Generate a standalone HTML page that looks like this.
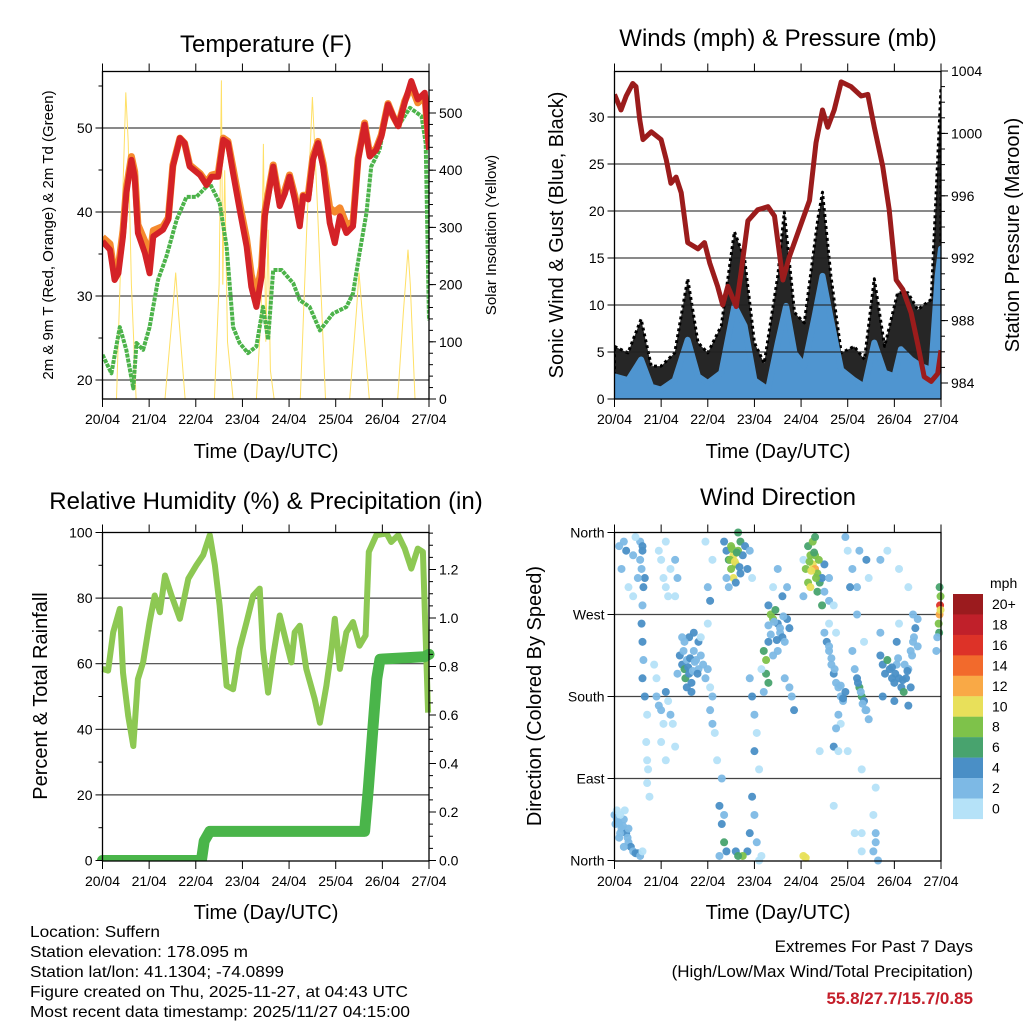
<!DOCTYPE html>
<html><head><meta charset="utf-8">
<style>
html,body{margin:0;padding:0;background:#fff;}
svg{display:block;font-family:"Liberation Sans",sans-serif;}
</style></head>
<body>
<svg id="fig" width="1024" height="1024" viewBox="0 0 1024 1024" xmlns="http://www.w3.org/2000/svg">
<rect width="1024" height="1024" fill="#fff"/>
<g id="p1"></g>
<g id="p2"></g>
<g id="p3"></g>
<g id="p4"></g>
<text x="266" y="52" font-size="24" text-anchor="middle">Temperature (F)</text>
<text x="778" y="46" font-size="24" text-anchor="middle">Winds (mph) &amp; Pressure (mb)</text>
<text x="266" y="509" font-size="24" text-anchor="middle">Relative Humidity (%) &amp; Precipitation (in)</text>
<text x="778" y="505" font-size="24" text-anchor="middle">Wind Direction</text>
<text x="266" y="458" font-size="20" text-anchor="middle">Time (Day/UTC)</text>
<text x="778" y="458" font-size="20" text-anchor="middle">Time (Day/UTC)</text>
<text x="266" y="919" font-size="20" text-anchor="middle">Time (Day/UTC)</text>
<text x="778" y="919" font-size="20" text-anchor="middle">Time (Day/UTC)</text>
<text transform="translate(53,235) rotate(-90)" font-size="15" text-anchor="middle">2m &amp; 9m T (Red, Orange) &amp; 2m Td (Green)</text>
<text transform="translate(496,235) rotate(-90)" font-size="15" text-anchor="middle">Solar Insolation (Yellow)</text>
<text transform="translate(563,235) rotate(-90)" font-size="20" text-anchor="middle">Sonic Wind &amp; Gust (Blue, Black)</text>
<text transform="translate(1019,235) rotate(-90)" font-size="20" text-anchor="middle">Station Pressure (Maroon)</text>
<text transform="translate(47,696) rotate(-90)" font-size="20" text-anchor="middle">Percent &amp; Total Rainfall</text>
<text transform="translate(541,696) rotate(-90)" font-size="20" text-anchor="middle">Direction (Colored By Speed)</text>
<g font-size="16">
<text x="30" y="937" textLength="130" lengthAdjust="spacingAndGlyphs">Location: Suffern</text>
<text x="30" y="957" textLength="218" lengthAdjust="spacingAndGlyphs">Station elevation: 178.095 m</text>
<text x="30" y="977" textLength="254" lengthAdjust="spacingAndGlyphs">Station lat/lon: 41.1304; -74.0899</text>
<text x="30" y="997" textLength="378" lengthAdjust="spacingAndGlyphs">Figure created on Thu, 2025-11-27, at 04:43 UTC</text>
<text x="30" y="1017" textLength="380" lengthAdjust="spacingAndGlyphs">Most recent data timestamp: 2025/11/27 04:15:00</text>
</g>
<g text-anchor="end">
<text x="973" y="952" font-size="17">Extremes For Past 7 Days</text>
<text x="973" y="977" font-size="17">(High/Low/Max Wind/Total Precipitation)</text>
<text x="973" y="1004" font-size="17" font-weight="bold" fill="#c41e2a">55.8/27.7/15.7/0.85</text>
</g>
<g id="cbar"></g>
</svg>
<script>
// ---------- DATA ----------
const dayLabels = ["20/04","21/04","22/04","23/04","24/04","25/04","26/04","27/04"];
const tempT = [0,0.16,0.26,0.34,0.44,0.51,0.62,0.69,0.76,0.91,1.01,1.09,1.3,1.41,1.51,1.66,1.76,1.87,2.09,2.23,2.34,2.48,2.59,2.69,2.8,2.94,3.09,3.19,3.3,3.41,3.48,3.66,3.8,3.91,4.01,4.12,4.23,4.3,4.41,4.51,4.62,4.73,4.87,4.98,5.09,5.23,5.37,5.48,5.62,5.73,5.87,5.98,6.12,6.23,6.34,6.48,6.62,6.76,6.91,7.0];
const temp2m = [36.5,35.5,31.9,32.7,37.1,42.2,46.2,44.2,37.5,35.1,32.7,37.1,37.9,39.1,45.4,48.8,48.2,45.4,44.4,43.2,44.2,44.2,48.6,48.2,44.6,40.3,35.9,31.1,28.7,32.3,39.5,45.4,40.7,42.2,44.2,41.5,38.3,41.9,41.5,46.2,48.2,45.4,38.7,36.3,39.5,37.5,38.3,46.2,50.4,46.6,47.4,49.0,52.8,51.4,50.2,53.0,55.6,53.4,54.2,47.4];
const temp9m = [37.0,36.2,32.5,33.5,37.8,42.8,46.6,44.8,38.5,36.5,34.5,37.8,38.3,39.3,45.6,48.8,48.2,45.6,44.6,43.5,44.4,44.6,48.8,48.4,45.2,41.0,36.8,32.5,30.0,33.5,40.0,45.6,41.2,42.6,44.4,42.0,39.0,42.0,42.0,46.6,48.4,45.8,40.5,40.0,40.5,38.5,38.8,46.4,50.6,46.8,47.6,49.2,52.9,51.4,50.3,53.2,55.0,53.0,53.8,48.0];
const dewT = [0,0.19,0.37,0.51,0.66,0.73,0.87,1.01,1.19,1.37,1.59,1.8,2.01,2.3,2.51,2.66,2.8,2.94,3.12,3.3,3.44,3.55,3.66,3.84,4.09,4.23,4.44,4.66,4.94,5.23,5.37,5.51,5.66,5.76,5.94,6.12,6.34,6.59,6.84,6.93,7.0];
const dewV = [23.0,20.8,26.3,23.6,19.0,24.4,23.6,26.3,31.9,34.7,39.1,41.8,41.8,43.4,41.1,35.9,26.3,24.4,23.2,24.0,28.7,24.8,33.1,33.1,31.5,29.5,28.7,25.9,27.9,28.7,30.3,35.1,39.9,45.4,47.4,52.8,50.2,52.4,51.4,48.2,27.1];
const solarT = [0,0.3,0.45,0.5,0.55,0.62,0.72,1.34,1.5,1.57,1.63,1.77,2.4,2.5,2.55,2.58,2.62,2.68,2.8,3.3,3.4,3.45,3.5,3.55,3.6,3.68,4.24,4.38,4.5,4.6,4.78,5.3,5.45,5.5,5.6,5.72,6.33,6.45,6.55,6.6,6.7,7.0];
const solarV = [0,0,400,536,450,200,0,0,150,221,150,0,0,200,557,200,400,100,0,0,150,446,100,296,50,0,0,300,528,350,0,0,160,221,120,0,0,150,261,200,0,0];
const windT = [0,0.29,0.57,0.79,1.0,1.29,1.57,1.79,2.0,2.29,2.57,2.79,3.0,3.29,3.5,3.68,3.86,4.07,4.29,4.46,4.64,4.86,5.14,5.36,5.57,5.79,6.0,6.14,6.36,6.57,6.79,6.93,7.0];
const windV = [2.4,2.0,4.2,1.3,1.0,2.0,6.3,2.4,1.7,2.8,9.9,7.8,2.0,1.0,6.0,9.9,4.9,3.5,8.8,13.1,8.5,3.1,2.0,1.3,6.0,2.8,2.4,5.3,4.2,3.5,3.1,13.1,16.0];
const gustT = [0,0.29,0.57,0.79,1.0,1.29,1.57,1.79,2.0,2.29,2.57,2.79,3.0,3.21,3.5,3.64,3.86,4.07,4.36,4.46,4.64,4.86,5.14,5.36,5.57,5.79,6.07,6.29,6.5,6.79,6.89,7.0];
const gustV = [5.6,4.9,8.5,3.5,3.5,4.9,12.8,6.0,4.9,7.8,17.8,14.9,6.0,3.8,13.1,19.9,9.2,8.1,19.2,22.0,13.1,4.9,5.6,4.2,12.8,5.6,11.3,11.3,9.5,10.6,21.3,33.1];
const presT = [0,0.14,0.25,0.39,0.46,0.54,0.61,0.79,1.0,1.11,1.21,1.32,1.43,1.57,1.79,1.93,2.04,2.21,2.32,2.43,2.61,2.71,2.86,3.07,3.29,3.43,3.61,3.75,4.0,4.18,4.32,4.46,4.57,4.71,4.86,5.07,5.29,5.43,5.57,5.75,5.89,6.04,6.18,6.36,6.5,6.64,6.79,6.93,7.0];
const presV = [1002.5,1001.5,1002.4,1003.2,1003.0,1000.9,999.6,1000.1,999.6,998.3,996.8,997.2,996.2,993.0,992.6,993.0,991.7,990.2,989.0,990.2,988.9,991.0,994.4,995.1,995.3,994.7,990.6,992.1,994.2,995.7,999.4,1001.5,1000.4,1001.5,1003.3,1003.0,1002.4,1002.5,1000.4,997.9,995.1,990.6,990.0,988.5,986.5,984.4,984.1,984.6,986.1];
const rhT = [0,0.12,0.23,0.37,0.44,0.55,0.66,0.76,0.87,1.01,1.12,1.23,1.34,1.48,1.66,1.84,2.01,2.16,2.3,2.41,2.51,2.66,2.8,2.94,3.09,3.23,3.37,3.44,3.55,3.66,3.8,3.94,4.05,4.12,4.23,4.37,4.55,4.66,4.8,4.91,4.98,5.09,5.23,5.37,5.51,5.64,5.71,5.87,6.09,6.19,6.34,6.48,6.62,6.76,6.87,6.98];
const rhV = [58.4,57.9,69.6,76.7,57.3,44.1,34.9,55.3,60.4,72.7,80.8,75.7,86.9,80.8,73.7,85.9,90.0,93.1,99.2,90.0,77.8,53.3,52.2,64.5,72.7,80.8,82.9,64.5,51.2,62.4,74.7,66.5,60.4,69.6,71.6,58.4,49.2,42.0,53.3,64.5,73.7,58.4,69.6,72.7,65.5,68.6,94.1,99.2,99.7,97.1,99.2,95.1,89.0,95.1,94.1,45.1];
const rainT = [0,2.12,2.18,2.3,5.62,5.7,5.8,5.88,5.95,6.9,7.0];
const rainV = [0,0,0.08,0.12,0.12,0.3,0.55,0.75,0.83,0.84,0.85];
const dirT = [0,0.05,0.1,0.15,0.2,0.25,0.3,0.35,0.4,0.45,0.05,0.1,0.2,0.3,0.02,0.12,0.22,0.5,0.55,0.6,
0.55,0.6,0.58,0.62,0.6,0.58,0.6,0.62,0.6,0.65,0.7,0.68,0.7,0.72,0.7,0.75,0.6,0.55,0.65,
0.1,0.2,0.25,0.15,0.4,0.3,0.4,0.5,0.45,
0.95,1.0,1.05,1.1,1.15,1.2,1.3,1.35,1.3,1.1,0.9,0.95,1.0,1.05,1.1,1.2,1.25,1.0,1.1,0.85,0.9,1.15,1.3,
1.4,1.45,1.5,1.52,1.55,1.6,1.65,1.7,1.75,1.8,1.85,1.9,1.8,1.7,1.6,1.5,1.55,1.65,1.95,2.0,2.05,2.1,1.45,1.35,1.85,
2.05,2.1,2.15,2.2,2.3,2.25,2.3,2.35,2.4,2.25,2.35,2.1,2.0,2.05,2.0,1.95,
2.35,2.4,2.45,2.5,2.55,2.6,2.65,2.7,2.5,2.55,2.6,2.75,2.8,2.85,2.7,2.65,2.45,2.9,2.95,2.4,
2.9,2.95,3.0,3.05,3.0,3.1,2.95,3.0,2.9,2.85,2.75,3.05,3.1,3.15,2.6,2.65,
3.3,3.35,3.4,3.45,3.5,3.55,3.6,3.65,3.7,3.75,3.2,3.25,3.25,3.3,3.2,3.15,3.4,3.5,3.65,3.75,3.8,3.85,3.6,3.7,3.4,3.5,3.3,
4.15,4.2,4.25,4.3,4.35,4.4,4.1,4.15,4.2,4.3,4.35,4.45,4.5,4.5,4.6,4.25,4.3,4.05,4.6,4.45,
4.5,4.55,4.6,4.65,4.7,4.75,4.8,4.85,4.9,4.95,4.8,4.85,4.75,4.7,4.8,4.6,4.7,4.75,
5.2,5.25,5.3,5.35,5.4,5.45,5.15,5.1,5.0,5.1,5.2,5.25,5.4,5.45,5.0,5.3,5.6,5.55,5.6,5.55,5.6,5.65,5.3,5.3,
5.7,5.75,5.8,5.85,5.9,5.95,6.0,6.05,6.1,6.15,6.2,6.25,6.3,6.35,6.4,6.45,6.4,5.7,5.75,6.0,6.3,6.35,6.5,6.5,6.05,6.1,
6.95,6.97,6.98,6.99,6.96,6.97,6.99,6.92,6.9,
5.85,6.3,6.1,4.05,4.95,5.05,5.7,5.2,5.35,4.4,4.7,4.05,4.1,5.15,
0.08,0.18,0.28,0.12,1.58,1.62,1.68,1.72,1.78,1.48,2.48,2.52,2.58,2.62,2.68,3.3,3.35,3.42,3.48,3.55,3.62,4.18,4.22,4.28,4.32,4.38,4.6,4.65,4.72,4.85,4.9,5.22,5.28,5.32,5.38,5.95,6.02,6.08,6.18,6.22,6.28,6.38,6.42];
const dirV = [50,45,40,35,45,30,20,15,10,8,55,25,15,35,40,50,55,8,5,10,
350,340,320,300,280,260,240,220,200,180,160,130,110,100,85,70,345,330,310,
345,350,340,320,335,300,290,310,355,
340,330,310,300,290,320,330,310,290,350,200,170,165,150,185,160,150,130,110,215,180,175,125,
225,215,210,200,220,205,195,230,220,210,225,215,240,250,245,240,190,185,200,210,190,180,245,205,245,
165,150,140,110,90,60,40,20,10,5,50,330,300,285,260,350,
350,340,330,345,335,325,340,350,320,310,305,335,345,320,315,360,300,340,310,310,
200,180,160,140,120,100,70,50,30,10,5,20,0,5,10,5,
280,270,265,275,260,250,245,240,265,255,230,220,205,195,185,210,225,230,200,190,180,165,290,300,300,320,240,
345,335,325,320,315,305,320,305,300,335,295,310,325,295,310,350,355,290,285,280,
250,240,230,215,205,195,190,180,175,185,160,150,145,125,120,260,280,250,
200,190,180,175,165,155,210,230,340,320,300,340,330,310,120,100,80,50,30,10,20,0,30,10,
225,215,205,220,210,200,195,215,200,190,185,200,210,230,240,255,270,250,180,175,170,190,265,235,240,260,
260,270,280,290,250,300,275,245,230,
340,300,320,330,355,300,330,270,240,120,60,5,3,30,
42,38,25,30,212,222,208,218,205,230,330,342,328,338,322,258,248,262,242,255,268,328,318,338,310,330,235,222,210,192,178,195,185,172,165,212,205,222,198,215,208,225,245];
const dirS = [2,2,2,2,2,4,2,4,2,4,1,2,2,2,2,0,1,4,2,1,
2,4,3,4,2,4,4,3,4,4,1,1,1,1,0,1,4,2,4,
2,2,4,2,2,1,0,2,0,
0,1,0,0,0,1,2,2,0,0,0,2,2,1,4,2,1,1,0,0,2,1,0,
4,4,6,6,2,4,4,2,2,2,2,2,4,4,4,2,4,4,2,2,1,2,2,2,1,
2,2,1,0,2,4,4,6,4,2,2,0,2,4,1,0,
4,4,6,8,10,8,8,6,8,10,4,4,4,4,4,6,2,2,1,2,
2,4,2,1,4,1,4,2,4,4,8,2,1,1,4,6,
4,8,8,6,4,2,4,2,4,4,6,8,6,6,2,1,2,2,2,2,2,4,4,2,0,2,4,
6,8,10,12,8,6,8,8,10,8,6,4,4,2,2,8,6,2,2,6,
2,4,2,2,4,2,2,2,2,4,2,1,2,4,1,1,0,0,
4,6,6,4,2,2,2,2,1,2,2,2,4,0,0,0,0,1,2,2,2,2,1,1,
4,4,4,6,4,4,4,2,4,4,6,4,2,2,2,4,2,2,4,4,4,4,2,2,4,1,
8,12,16,8,6,6,10,2,2,
1,0,1,0,2,4,2,2,1,0,1,10,10,1,
2,2,3,2,4,4,2,3,4,2,8,8,10,6,4,2,3,2,4,2,2,8,10,6,8,8,2,3,2,2,4,4,2,3,2,4,4,3,4,2,4,2,2];
const cbarLabels = ["20+","18","16","14","12","10","8","6","4","2","0"];
const cbarColors = ["#9b1b1e","#c0202a","#dd3228","#f26a2c","#f9a946","#e8e05a","#7ec24a","#48a36e","#4a8fc6","#7db9e5","#b5e2f8"];

// ---------- DRAWING ----------
const NS="http://www.w3.org/2000/svg";
function mk(parent,tag,attrs){const e=document.createElementNS(NS,tag);for(const k in attrs)e.setAttribute(k,attrs[k]);parent.appendChild(e);return e;}
function lin(d0,d1,r0,r1){return v=>r0+(v-d0)*(r1-r0)/(d1-d0);}
function pathFrom(ts,vs,sx,sy){return ts.map((t,i)=>(i?"L":"M")+sx(t).toFixed(1)+" "+sy(vs[i]).toFixed(1)).join(" ");}

function frame(g,box){
  const sx=lin(0,7,box.x0,box.x1);
  dayLabels.forEach((lab,i)=>{
    const x=sx(i);
    const t1=mk(g,"line",{x1:x,x2:x,y1:box.y1,y2:box.y1+8,stroke:"#000","stroke-width":1});
    
    
    const t2=mk(g,"line",{x1:x,x2:x,y1:box.y0,y2:box.y0-8,stroke:"#000","stroke-width":1});
    
    
    const tx=mk(g,"text",{x:x,y:box.y1+25,"font-size":14,"text-anchor":"middle"});
    tx.textContent=lab;
    
    
  });
  return sx;
}
function border(g,box){
  const r=mk(g,"rect",{x:box.x0,y:box.y0,width:box.x1-box.x0,height:box.y1-box.y0,fill:"none",stroke:"#000","stroke-width":1.3});
  
  
}
function grid(g,box,vals,sy){
  vals.forEach(v=>{const y=sy(v);
    const l=mk(g,"line",{x1:box.x0,x2:box.x1,y1:y,y2:y,stroke:"#222","stroke-width":1.2,"stroke-opacity":0.85});
    
    });
}
function yAxis(g,box,vals,labels,sy,side,minor){
  const xe= side==="L"?box.x0:box.x1;
  const dir= side==="L"?-1:1;
  if(minor) minor.forEach(v=>{const y=sy(v);
    const l=mk(g,"line",{x1:xe,x2:xe+dir*4,y1:y,y2:y,stroke:"#000","stroke-width":1});
    
    });
  vals.forEach((v,i)=>{const y=sy(v);
    const l=mk(g,"line",{x1:xe,x2:xe+dir*7,y1:y,y2:y,stroke:"#000","stroke-width":1});
    
    
    const t=mk(g,"text",{x:xe+dir*10,y:y+5,"font-size":14,"text-anchor":side==="L"?"end":"start"});
    t.textContent=labels[i];
    
    });
}
function range(a,b,s){const r=[];for(let v=a;v<=b+1e-9;v+=s)r.push(+v.toFixed(4));return r;}

// Panel 1
(function(){
  const g=document.getElementById("p1");
  const box={x0:102.5,x1:429,y0:71.5,y1:399};
  const sx=frame(g,box);
  const sy=lin(20,30,380,296);
  const sr=lin(0,500,399,113);
  grid(g,box,[20,30,40,50],sy);
  const cp=mk(g,"clipPath",{id:"c1"});mk(cp,"rect",{x:box.x0,y:box.y0,width:box.x1-box.x0,height:box.y1-box.y0});
  const d=mk(g,"g",{"clip-path":"url(#c1)"});
  let p=mk(d,"path",{d:pathFrom(solarT,solarV,sx,sr),fill:"none",stroke:"#ffe066","stroke-width":1});
  
  
  p=mk(d,"path",{d:pathFrom(dewT,dewV,sx,sy),fill:"none",stroke:"#4cb34a","stroke-width":4,"stroke-linejoin":"round","stroke-dasharray":"4 1"});
  
  
  p=mk(d,"path",{d:pathFrom(tempT,temp9m,sx,sy),fill:"none",stroke:"#f58a2e","stroke-width":7,"stroke-linejoin":"round"});
  
  
  p=mk(d,"path",{d:pathFrom(tempT,temp2m,sx,sy),fill:"none",stroke:"#d42227","stroke-width":6,"stroke-linejoin":"round"});
  
  
  border(g,box);
  yAxis(g,box,[20,30,40,50],["20","30","40","50"],sy,"L",[25,35,45,55]);
  yAxis(g,box,[0,100,200,300,400,500],["0","100","200","300","400","500"],sr,"R",range(20,540,20));
})();

// Panel 2
(function(){
  const g=document.getElementById("p2");
  const box={x0:614.5,x1:941,y0:71.5,y1:399};
  const sx=frame(g,box);
  const sy=lin(0,5,399,352);
  const sp=lin(984,988,383,320.6);
  const cp=mk(g,"clipPath",{id:"c2"});mk(cp,"rect",{x:box.x0,y:box.y0,width:box.x1-box.x0,height:box.y1-box.y0});
  const d=mk(g,"g",{"clip-path":"url(#c2)"});
  let area=pathFrom(gustT,gustV,sx,sy)+" L"+sx(7)+" "+sy(0)+" L"+sx(0)+" "+sy(0)+" Z";
  let p=mk(d,"path",{d:area,fill:"#000","fill-opacity":0.85,stroke:"#000","stroke-width":3,"stroke-linejoin":"round","stroke-dasharray":"3 3"});
  
  
  let barea=pathFrom(windT,windV,sx,sy)+" L"+sx(7)+" "+sy(0.3)+" L"+sx(0)+" "+sy(0.3)+" Z";
  p=mk(d,"path",{d:barea,fill:"#4f95d0",stroke:"#4f95d0","stroke-width":6,"stroke-linejoin":"round"});
  
  
  grid(d,box,[5,10,15,20,25,30],sy);
  p=mk(d,"path",{d:pathFrom(presT,presV,sx,sp),fill:"none",stroke:"#9b1c1c","stroke-width":5,"stroke-linejoin":"round"});
  
  
  border(g,box);
  yAxis(g,box,[0,5,10,15,20,25,30],["0","5","10","15","20","25","30"],sy,"L");
  yAxis(g,box,[984,988,992,996,1000,1004],["984","988","992","996","1000","1004"],sp,"R",range(984,1004,1));
})();

// Panel 3
(function(){
  const g=document.getElementById("p3");
  const box={x0:102.5,x1:429,y0:532.5,y1:861};
  const sx=frame(g,box);
  const sy=lin(0,100,860.5,532.5);
  const sr=lin(0,0.1,860.5,836.25);
  grid(g,box,[20,40,60,80],sy);
  const cp=mk(g,"clipPath",{id:"c3"});mk(cp,"rect",{x:box.x0-6,y:box.y0,width:box.x1-box.x0+12,height:box.y1-box.y0});
  const d=mk(g,"g",{"clip-path":"url(#c3)"});
  let p=mk(d,"path",{d:pathFrom(rhT,rhV,sx,sy),fill:"none",stroke:"#8dc853","stroke-width":6,"stroke-linejoin":"round"});
  
  
  p=mk(d,"path",{d:pathFrom(rainT,rainV,sx,sr),fill:"none",stroke:"#4ab54a","stroke-width":11,"stroke-linejoin":"round","stroke-linecap":"round"});
  
  
  border(g,box);
  yAxis(g,box,[0,20,40,60,80,100],["0","20","40","60","80","100"],sy,"L",range(10,90,20));
  yAxis(g,box,[0,0.2,0.4,0.6,0.8,1.0,1.2],["0.0","0.2","0.4","0.6","0.8","1.0","1.2"],sr,"R",range(0.05,1.35,0.05));
})();

// Panel 4
(function(){
  const g=document.getElementById("p4");
  const box={x0:614.5,x1:941,y0:532.5,y1:861};
  const sx=frame(g,box);
  const sy=lin(0,360,860.5,532.5);
  grid(g,box,[90,180,270],sy);
  dirT.forEach((t,i)=>{
    const idx=Math.min(10,Math.floor(dirS[i]/2));
    const c=mk(g,"circle",{cx:sx(t),cy:sy(dirV[i]),r:4,fill:cbarColors[10-idx],"fill-opacity":0.95});
    
    
  });
  border(g,box);
  yAxis(g,box,[0,90,180,270,360],["North","East","South","West","North"],sy,"L");
  const cb=document.getElementById("cbar");
  const t=mk(cb,"text",{x:990,y:588,"font-size":14});
  t.textContent="mph";
  
  
  cbarLabels.forEach((lab,i)=>{
    const y=594+i*20.45;
    const r=mk(cb,"rect",{x:953,y:y,width:30,height:20.6,fill:cbarColors[i]});
    
    
    const tx=mk(cb,"text",{x:992,y:y+15,"font-size":14});
    tx.textContent=lab;
    
    
  });
})();
</script>
</body></html>
